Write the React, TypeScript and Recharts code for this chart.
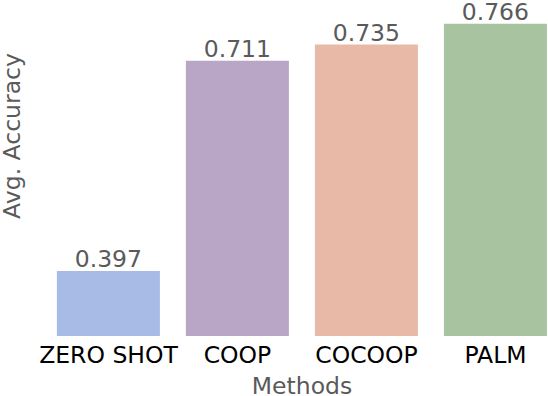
import { BarChart, Bar, XAxis, YAxis, Cell, LabelList } from "recharts"

const methods = ["ZERO SHOT", "COOP", "COCOOP", "PALM"]
const accuracy = [0.397, 0.711, 0.735, 0.766]
const colors = ["#a8bbe6", "#b9a5c6", "#e8b9a6", "#a8c3a0"]

const data = methods.map((m, i) => ({ method: m, acc: accuracy[i] }))

const font = "'DejaVu Sans', sans-serif"
const gray = "#5a5a5a"

function MethodTick(props: any) {
  const { x, payload } = props
  return (
    <text x={x} y={363} textAnchor="middle" fill="#000" fontSize={23.5} fontFamily={font}>
      {payload.value}
    </text>
  )
}

function ValueLabel(props: any) {
  const { x, y, width, value } = props
  return (
    <text x={x + width / 2} y={y - 4} textAnchor="middle" fill={gray} fontSize={23.5} fontFamily={font}>
      {value.toFixed(3)}
    </text>
  )
}

export default function App() {
  return (
    <div style={{ position: "absolute", left: 0, top: 0, width: 548, height: 396, overflow: "hidden", background: "#fff" }}>
      <BarChart
        width={560}
        height={396}
        data={data}
        margin={{ top: 1, right: 0, bottom: 0, left: 0 }}
        barCategoryGap="10%"
      >
        <XAxis
          dataKey="method"
          height={60}
          axisLine={false}
          tickLine={false}
          tick={<MethodTick />}
          interval={0}
          label={{ value: "Methods", position: "insideBottom", offset: 2, fill: gray, fontSize: 23.5, fontFamily: font }}
        />
        <YAxis
          domain={[0.3, 0.8]}
          width={44}
          axisLine={false}
          tickLine={false}
          tick={false}
          label={{
            content: () => (
              <text x={20} y={136} transform="rotate(-90, 20, 136)" textAnchor="middle" fill={gray} fontSize={23.5} fontFamily={font}>
                Avg. Accuracy
              </text>
            ),
          }}
        />
        <Bar dataKey="acc" isAnimationActive={false}>
          {data.map((d, i) => (
            <Cell key={d.method} fill={colors[i]} />
          ))}
          <LabelList dataKey="acc" content={<ValueLabel />} />
        </Bar>
      </BarChart>
    </div>
  )
}
